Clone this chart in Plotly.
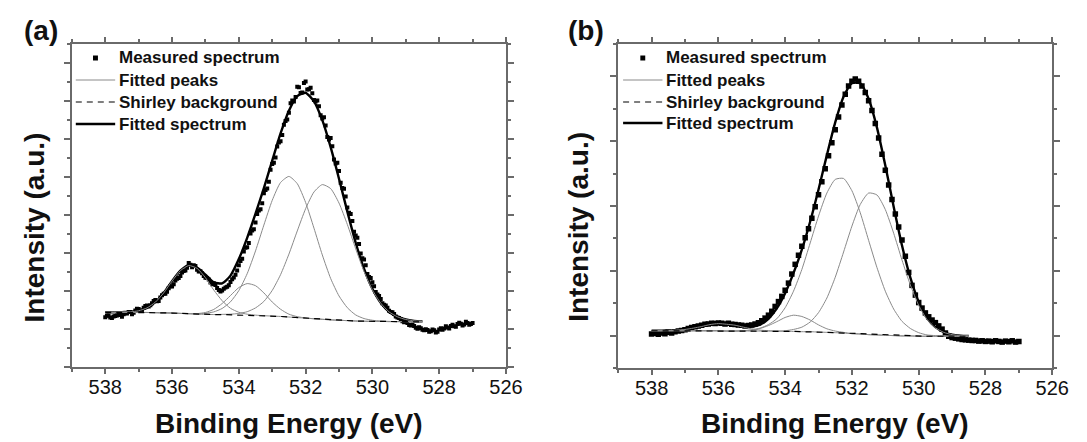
import plotly.graph_objects as go

# ---------------- data ----------------
# energy sampling (eV)
E_meas = [round(538.0 - 0.1 * i, 2) for i in range(111)]
E_half = [round(537.95 - 0.1 * i, 2) for i in range(110)]
E_fit = [round(538.0 - 0.25 * i, 2) for i in range(39)]

# Panel (a)
a_meas = [2.62, 2.71, 2.58, 2.69, 2.77, 2.64, 2.83, 2.90, 2.78, 2.98,
          3.05, 2.97, 3.21, 3.18, 3.36, 3.52, 3.47, 3.78, 3.86, 4.15,
          4.24, 4.55, 4.68, 4.97, 5.08, 5.47, 5.25, 5.31, 5.02, 4.93,
          4.70, 4.61, 4.35, 4.32, 4.05, 4.02, 4.18, 4.30, 4.62, 4.85,
          5.36, 5.70, 6.28, 6.52, 7.18, 7.60, 8.24, 8.62, 9.31, 9.75,
          10.68, 11.02, 11.82, 12.21, 12.95, 13.38, 14.02, 14.21, 14.72, 14.45,
          15.02, 14.62, 14.41, 13.98, 13.72, 13.08, 12.71, 11.98, 11.62, 10.71,
          10.31, 9.42, 8.98, 8.12, 7.68, 6.92, 6.47, 5.73, 5.36, 4.74,
          4.46, 3.95, 3.74, 3.36, 3.24, 2.96, 2.88, 2.66, 2.58, 2.41,
          2.38, 2.21, 2.24, 2.06, 2.09, 1.96, 1.99, 1.86, 1.97, 1.82,
          1.98, 1.96, 2.14, 2.02, 2.23, 2.12, 2.33, 2.18, 2.38, 2.22,
          2.31]
a_meas_half = [2.70, 2.61, 2.66, 2.71, 2.74, 2.77, 2.82, 2.89, 2.86, 3.07,
               2.96, 3.12, 3.24, 3.25, 3.48, 3.46, 3.66, 3.85, 3.96, 4.25,
               4.36, 4.64, 4.79, 5.05, 5.22, 5.38, 5.36, 5.12, 5.04, 4.79,
               4.68, 4.45, 4.41, 4.16, 3.97, 4.12, 4.22, 4.48, 4.71, 5.08,
               5.58, 6.08, 6.30, 7.02, 7.25, 8.05, 8.30, 9.15, 9.40, 10.38,
               10.75, 11.60, 11.88, 12.75, 13.02, 13.88, 13.98, 14.75, 14.42, 14.95,
               14.60, 14.70, 14.05, 14.02, 13.25, 13.15, 12.10, 12.05, 10.92, 10.75,
               9.70, 9.38, 8.40, 8.05, 7.12, 6.80, 5.98, 5.66, 4.90, 4.68,
               4.25, 3.82, 3.58, 3.28, 3.12, 2.89, 2.79, 2.60, 2.52, 2.36,
               2.31, 2.18, 2.16, 2.01, 2.04, 1.93, 1.95, 1.88, 1.93, 1.86,
               2.04, 2.02, 2.08, 2.16, 2.15, 2.26, 2.27, 2.24, 2.32, 2.26]
a_bg = [2.88, 2.88, 2.88, 2.87, 2.87, 2.87, 2.86, 2.85, 2.84, 2.82, 2.80, 2.78, 2.77,
        2.76, 2.76, 2.75, 2.74, 2.73, 2.72, 2.70, 2.68, 2.66, 2.63, 2.60, 2.57, 2.54,
        2.51, 2.48, 2.46, 2.44, 2.42, 2.41, 2.40, 2.40, 2.39, 2.39, 2.39, 2.38, 2.38]
a_peak1 = [2.88, 2.88, 2.89, 2.90, 2.96, 3.11, 3.41, 3.90, 4.52, 5.07, 5.34, 5.19, 4.70,
           4.05, 3.49, 3.09, 2.88, 2.78, 2.73, 2.70, 2.68, 2.66, 2.63, 2.60, 2.57, 2.54,
           2.51, 2.48, 2.46, 2.44, 2.42, 2.41, 2.40, 2.40, 2.39, 2.39, 2.39, 2.38, 2.38]
a_peak2 = [2.88, 2.88, 2.88, 2.87, 2.87, 2.87, 2.86, 2.85, 2.84, 2.82, 2.81, 2.81, 2.87,
           3.03, 3.34, 3.76, 4.18, 4.39, 4.28, 3.90, 3.42, 3.04, 2.78, 2.65, 2.58, 2.54,
           2.51, 2.48, 2.46, 2.44, 2.42, 2.41, 2.40, 2.40, 2.39, 2.39, 2.39, 2.38, 2.38]
a_peak3 = [2.88, 2.88, 2.88, 2.87, 2.87, 2.87, 2.86, 2.85, 2.84, 2.82, 2.81, 2.80, 2.83,
           2.90, 3.08, 3.43, 4.02, 4.91, 6.11, 7.47, 8.77, 9.71, 10.03, 9.65, 8.66, 7.31,
           5.90, 4.66, 3.74, 3.12, 2.74, 2.55, 2.46, 2.42, 2.40, 2.39, 2.39, 2.38, 2.38]
a_peak4 = [2.88, 2.88, 2.88, 2.87, 2.87, 2.87, 2.86, 2.85, 2.84, 2.82, 2.80, 2.78, 2.77,
           2.76, 2.77, 2.78, 2.82, 2.91, 3.11, 3.45, 4.03, 4.86, 5.94, 7.16, 8.33, 9.21,
           9.60, 9.39, 8.63, 7.50, 6.22, 5.03, 4.06, 3.36, 2.90, 2.64, 2.50, 2.43, 2.40]
a_fit = [2.88, 2.88, 2.89, 2.90, 2.96, 3.11, 3.41, 3.90, 4.52, 5.07, 5.36, 5.24, 4.86,
         4.46, 4.40, 4.81, 5.68, 6.80, 8.07, 9.42, 10.86, 12.29, 13.49, 14.26, 14.43, 13.98,
         12.99, 11.57, 9.91, 8.18, 6.54, 5.17, 4.12, 3.38, 2.91, 2.64, 2.50, 2.43, 2.40]

# Panel (b)
b_meas = [1.05, 1.07, 1.04, 1.08, 1.06, 1.10, 1.08, 1.12, 1.14, 1.16,
          1.18, 1.22, 1.25, 1.27, 1.30, 1.32, 1.35, 1.36, 1.38, 1.37,
          1.39, 1.38, 1.36, 1.38, 1.35, 1.34, 1.33, 1.32, 1.30, 1.31,
          1.33, 1.36, 1.40, 1.46, 1.54, 1.63, 1.75, 1.90, 2.05, 2.21,
          2.40, 2.62, 2.90, 3.20, 3.48, 3.76, 4.02, 4.30, 4.62, 4.98,
          5.35, 5.75, 6.15, 6.55, 6.95, 7.35, 7.75, 8.12, 8.45, 8.70,
          8.85, 8.92, 8.85, 8.70, 8.50, 8.25, 7.95, 7.55, 7.10, 6.60,
          6.10, 5.65, 5.20, 4.75, 4.35, 3.95, 3.45, 2.95, 2.55, 2.25,
          2.02, 1.85, 1.70, 1.58, 1.48, 1.40, 1.30, 1.20, 1.08, 0.98,
          0.94, 0.92, 0.90, 0.88, 0.87, 0.86, 0.85, 0.85, 0.83, 0.84,
          0.82, 0.83, 0.81, 0.84, 0.82, 0.80, 0.83, 0.81, 0.84, 0.80,
          0.82]
b_bg = [1.15, 1.15, 1.15, 1.15, 1.15, 1.15, 1.15, 1.15, 1.15, 1.14, 1.14, 1.14, 1.14,
        1.14, 1.14, 1.13, 1.13, 1.13, 1.12, 1.12, 1.11, 1.10, 1.09, 1.08, 1.06, 1.05,
        1.03, 1.02, 1.01, 1.00, 0.99, 0.99, 0.98, 0.98, 0.98, 0.98, 0.98, 0.98, 0.98]
b_peak0 = [1.15, 1.15, 1.16, 1.17, 1.19, 1.23, 1.28, 1.34, 1.37, 1.35, 1.32, 1.26, 1.21,
           1.17, 1.15, 1.14, 1.13, 1.13, 1.12, 1.12, 1.11, 1.10, 1.09, 1.08, 1.06, 1.05,
           1.03, 1.02, 1.01, 1.00, 0.99, 0.99, 0.98, 0.98, 0.98, 0.98, 0.98, 0.98, 0.98]
b_peak1 = [1.15, 1.15, 1.15, 1.15, 1.15, 1.15, 1.15, 1.15, 1.15, 1.14, 1.14, 1.15, 1.17,
           1.22, 1.31, 1.43, 1.56, 1.63, 1.59, 1.48, 1.33, 1.21, 1.14, 1.10, 1.06, 1.05,
           1.03, 1.02, 1.01, 1.00, 0.99, 0.99, 0.98, 0.98, 0.98, 0.98, 0.98, 0.98, 0.98]
b_peak2 = [1.15, 1.15, 1.15, 1.15, 1.15, 1.15, 1.15, 1.15, 1.15, 1.14, 1.14, 1.15, 1.18,
           1.23, 1.34, 1.52, 1.86, 2.37, 3.04, 3.86, 4.69, 5.40, 5.82, 5.85, 5.47, 4.79,
           3.94, 3.10, 2.37, 1.82, 1.44, 1.22, 1.09, 1.02, 1.00, 0.99, 0.98, 0.98, 0.98]
b_peak3 = [1.15, 1.15, 1.15, 1.15, 1.15, 1.15, 1.15, 1.15, 1.15, 1.14, 1.14, 1.14, 1.14,
           1.14, 1.14, 1.14, 1.15, 1.19, 1.26, 1.42, 1.71, 2.16, 2.80, 3.58, 4.38, 5.05,
           5.40, 5.34, 4.89, 4.16, 3.33, 2.56, 1.93, 1.50, 1.24, 1.10, 1.03, 1.00, 0.99]
b_fit = [1.15, 1.15, 1.16, 1.17, 1.19, 1.23, 1.28, 1.34, 1.37, 1.35, 1.32, 1.28, 1.28,
         1.34, 1.52, 1.84, 2.31, 2.93, 3.65, 4.52, 5.51, 6.57, 7.58, 8.37, 8.79, 8.79,
         8.31, 7.42, 6.25, 4.98, 3.78, 2.79, 2.04, 1.54, 1.26, 1.11, 1.03, 1.00, 0.99]

x_tick_vals = [538, 536, 534, 532, 530, 528, 526]
x_tick_text = ["538", "536", "534", "532", "530", "528", "526"]
panel_labels = ["(a)", "(b)"]
legend_labels = ["Measured spectrum", "Fitted peaks", "Shirley background", "Fitted spectrum"]
x_title = "Binding Energy (eV)"
y_title = "Intensity (a.u.)"

# ---------------- figure ----------------
W, H = 1087, 442
FONT = "Liberation Sans, Arial, sans-serif"
FRAME = "#6a6a6a"
PEAK_COLOR = "#8a8a8a"
FIT_W = 2.4
BG_DASH = "6px,5px"

fig = go.Figure()


def add_panel(xa, ya, mx, my, msize, bg, peaks, fit):
    fig.add_trace(go.Scatter(
        x=E_fit, y=fit, mode="lines", name="Fitted spectrum",
        line=dict(color="black", width=FIT_W, shape="spline", smoothing=0.6),
        xaxis=xa, yaxis=ya, showlegend=False))
    fig.add_trace(go.Scatter(
        x=mx, y=my, mode="markers", name="Measured spectrum",
        marker=dict(symbol="square", size=msize, color="black"),
        xaxis=xa, yaxis=ya, showlegend=False))
    for p in peaks:
        fig.add_trace(go.Scatter(
            x=E_fit, y=p, mode="lines", name="Fitted peaks",
            line=dict(color=PEAK_COLOR, width=1, shape="spline", smoothing=0.6),
            xaxis=xa, yaxis=ya, showlegend=False))
    fig.add_trace(go.Scatter(
        x=E_fit, y=bg, mode="lines", name="Shirley background",
        line=dict(color="black", width=1.2, dash=BG_DASH),
        xaxis=xa, yaxis=ya, showlegend=False))


add_panel("x", "y", E_meas + E_half, a_meas + a_meas_half, 4,
          a_bg, [a_peak1, a_peak2, a_peak3, a_peak4], a_fit)
add_panel("x2", "y2", E_meas, b_meas, 5.5,
          b_bg, [b_peak0, b_peak1, b_peak2, b_peak3], b_fit)


def xaxis_cfg(dom, anchor):
    return dict(
        domain=dom, anchor=anchor, range=[539, 526],
        tickmode="array", tickvals=x_tick_vals, ticktext=x_tick_text,
        ticks="outside", ticklen=5, tickwidth=1.5, tickcolor=FRAME,
        showline=True, linecolor=FRAME, linewidth=2, mirror="ticks",
        showgrid=False, zeroline=False, ticklabelstandoff=-4,
        tickfont=dict(family=FONT, size=20, color="#111"),
        minor=dict(dtick=1, tick0=526, ticks="outside", ticklen=3, tickwidth=1.5,
                   tickcolor=FRAME, showgrid=False),
    )


def yaxis_cfg(dom, anchor, rng, tick0):
    return dict(
        domain=dom, anchor=anchor, range=rng,
        tickmode="linear", tick0=tick0, dtick=2, showticklabels=False,
        ticks="outside", ticklen=6, tickwidth=1.5, tickcolor=FRAME,
        showline=True, linecolor=FRAME, linewidth=2, mirror="ticks",
        showgrid=False, zeroline=False,
        minor=dict(dtick=1, ticks="outside", ticklen=3, tickwidth=1.5,
                   tickcolor=FRAME, showgrid=False),
    )


xa_dom = [73 / W, 514 / W]
xb_dom = [628 / W, 1069 / W]
ya_dom = [1 - 367 / H, 1 - 44 / H]
yb_dom = [1 - 368 / H, 1 - 44 / H]

fig.update_layout(
    width=W, height=H,
    margin=dict(l=0, r=0, t=0, b=0),
    paper_bgcolor="white", plot_bgcolor="white",
    showlegend=False,
    xaxis=xaxis_cfg(xa_dom, "y"),
    yaxis=yaxis_cfg(ya_dom, "x", [0, 17], 0),
    xaxis2=xaxis_cfg(xb_dom, "y2"),
    yaxis2=yaxis_cfg(yb_dom, "x2", [0, 10], 1),
)


def px(x):
    return x / W


def py(y):
    return 1 - y / H


title_font = dict(family=FONT, size=28, color="#111", weight="bold")
legend_font = dict(family=FONT, size=17, color="#111", weight="bold")
annotations = []
shapes = []

for lab, cx in zip(panel_labels, [42, 595]):
    annotations.append(dict(text=lab, x=px(cx), y=py(31), xref="paper", yref="paper",
                            showarrow=False, font=title_font, xanchor="center", yanchor="middle"))
for cx in [(73 + 514) / 2, (628 + 1069) / 2]:
    annotations.append(dict(text=x_title, x=px(cx), y=py(423), xref="paper", yref="paper",
                            showarrow=False, font=title_font, xanchor="center", yanchor="middle"))
for cx in [36, 588]:
    annotations.append(dict(text=y_title, x=px(cx), y=py(227), xref="paper", yref="paper",
                            showarrow=False, font=title_font, textangle=-90,
                            xanchor="center", yanchor="middle"))

# legends (one per panel, drawn as key samples + text)
for x0, rows in [(77, [58, 80, 102, 124]), (633, [58, 80, 102, 123])]:
    x1 = x0 + 40
    xc = x0 + 20
    shapes.append(dict(type="rect", xref="paper", yref="paper",
                       x0=px(xc - 2.5), x1=px(xc + 2.5), y0=py(rows[0] + 2.5), y1=py(rows[0] - 2.5),
                       fillcolor="black", line=dict(width=0)))
    shapes.append(dict(type="line", xref="paper", yref="paper",
                       x0=px(x0), x1=px(x1), y0=py(rows[1]), y1=py(rows[1]),
                       line=dict(color=PEAK_COLOR, width=1)))
    shapes.append(dict(type="line", xref="paper", yref="paper",
                       x0=px(x0), x1=px(x1 + 3), y0=py(rows[2]), y1=py(rows[2]),
                       line=dict(color="black", width=1.2, dash=BG_DASH)))
    shapes.append(dict(type="line", xref="paper", yref="paper",
                       x0=px(x0), x1=px(x1), y0=py(rows[3]), y1=py(rows[3]),
                       line=dict(color="black", width=FIT_W)))
    for lab, ry in zip(legend_labels, rows):
        annotations.append(dict(text=lab, x=px(x1 + 2), y=py(ry), xref="paper", yref="paper",
                                showarrow=False, font=legend_font,
                                xanchor="left", yanchor="middle"))

fig.update_layout(annotations=annotations, shapes=shapes)

fig.write_html("out.html", config={"displayModeBar": False},
               post_script="document.body.style.margin='0px';")
